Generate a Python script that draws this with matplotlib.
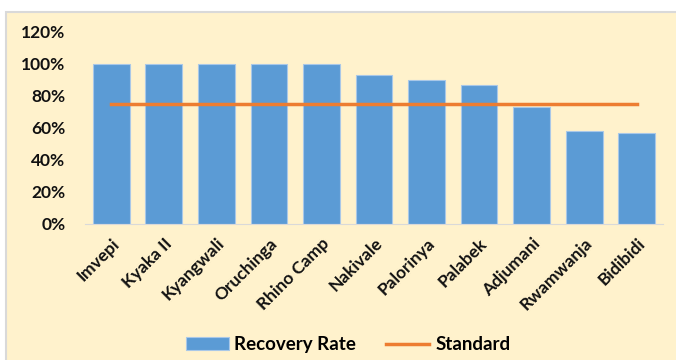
import matplotlib
matplotlib.use("Agg")
from matplotlib import pyplot as plt
from matplotlib.patches import Rectangle
from matplotlib.ticker import PercentFormatter

plt.rcParams['font.family'] = ['Lato', 'DejaVu Sans']
plt.rcParams['font.weight'] = 'bold'

settlements = ["Imvepi", "Kyaka II", "Kyangwali", "Oruchinga", "Rhino Camp", "Nakivale",
               "Palorinya", "Palabek", "Adjumani", "Rwamwanja", "Bidibidi"]
recovery = [1.00, 1.00, 1.00, 1.00, 1.00, 0.93, 0.90, 0.87, 0.73, 0.58, 0.57]
standard = [0.75] * len(settlements)

bg = "#FFF2CC"
fig = plt.figure(figsize=(6.76, 3.6), dpi=100, facecolor="white")
# chart area panel with grey frame, kept behind the axes
fig.patches.append(Rectangle((6 / 676, -0.01), 1.0, 1 - 12 / 360 + 0.01, transform=fig.transFigure,
                             facecolor=bg, edgecolor="#D9D9D9", linewidth=1.5, zorder=-10))

ax = fig.add_axes([85 / 676, 1 - 224 / 360, 578 / 676, 192 / 360])
ax.set_facecolor(bg)
x = range(len(settlements))
bars = ax.bar(x, recovery, width=0.7, color="#5B9BD5", edgecolor="#A9C8E8", linewidth=0.8,
              label="Recovery Rate", zorder=2)
line, = ax.plot(x, standard, color="#ED7D31", linewidth=2.5, label="Standard", zorder=3)

ax.set_xlim(-0.5, len(settlements) - 0.5)
ax.set_ylim(0, 1.2)
ax.set_yticks([0, 0.2, 0.4, 0.6, 0.8, 1.0, 1.2])
ax.yaxis.set_major_formatter(PercentFormatter(1.0, decimals=0))
ax.set_xticks(list(x))
ax.set_xticklabels(settlements, rotation=45, ha="right", rotation_mode="anchor")
ax.tick_params(length=0, labelsize=12.5, colors="#111111")
ax.tick_params(axis="y", pad=14)
ax.tick_params(axis="x", pad=8)
for s in ["top", "right", "left"]:
    ax.spines[s].set_visible(False)
ax.spines["bottom"].set_color("#D9D9D9")

ax.legend([bars, line], ["Recovery Rate", "Standard"], loc="center",
          bbox_to_anchor=(0.455, -0.63), ncol=2, frameon=False,
          fontsize=13.5, handlelength=2.3, handletextpad=0.3, columnspacing=1.6)

fig.savefig("out.png", dpi=100, facecolor="white")
